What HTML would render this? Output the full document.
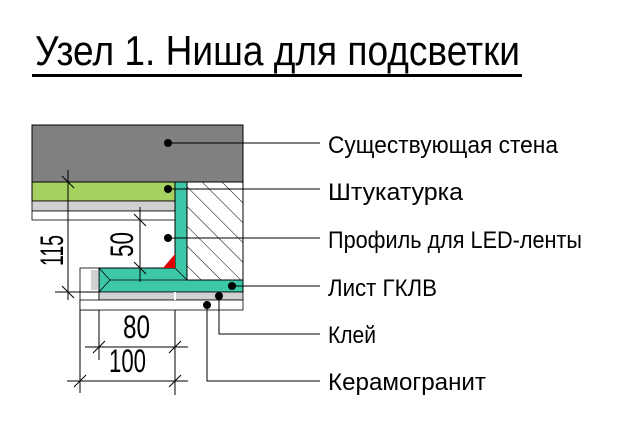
<!DOCTYPE html>
<html><head><meta charset="utf-8"><style>html,body{margin:0;padding:0;background:#fff}svg{display:block}</style></head>
<body>
<svg width="630" height="422" viewBox="0 0 630 422" xmlns="http://www.w3.org/2000/svg" font-family="Liberation Sans, sans-serif">
<defs>
<pattern id="h" patternUnits="userSpaceOnUse" width="14" height="14" patternTransform="rotate(-45)">
<line x1="0" y1="0" x2="0" y2="14" stroke="#000" stroke-width="1"/>
</pattern>
</defs>
<text x="35" y="65" font-size="42" textLength="485" lengthAdjust="spacingAndGlyphs">Узел 1. Ниша для подсветки</text>
<rect x="32" y="74" width="490" height="3" fill="#000"/>
<rect x="32" y="125" width="211" height="57" fill="#808080" stroke="#000"/>
<rect x="32" y="182" width="143" height="19" fill="#a5d160" stroke="#000"/>
<rect x="32" y="201" width="143" height="10" fill="#d0d0d0" stroke="#000" stroke-width="0.8"/>
<rect x="32" y="211" width="143" height="9" fill="#fff" stroke="#000" stroke-width="0.8"/>
<rect x="187" y="182" width="56" height="98" fill="url(#h)" stroke="#000"/>
<rect x="80" y="268" width="19" height="42" fill="#fff" stroke="#000" stroke-width="0.8"/>
<rect x="91" y="270" width="7" height="20" fill="#d0d0d0"/>
<path d="M175 182 H187 V280 H243 V292 H99 V268 H175 Z" fill="#3cc8a8" stroke="#000"/>
<polyline points="99,268 110,280 243,280" fill="none" stroke="#000" stroke-width="0.8"/>
<line x1="110" y1="280" x2="99" y2="292" stroke="#000" stroke-width="0.8"/>
<line x1="175" y1="268" x2="187" y2="280" stroke="#000" stroke-width="0.8"/>
<polygon points="175,254 175,268 163,268" fill="#e00000"/>
<rect x="99" y="292" width="144" height="8" fill="#d0d0d0" stroke="#000" stroke-width="0.8"/>
<rect x="80" y="300" width="163" height="10" fill="#fff" stroke="#000" stroke-width="0.8"/>
<line x1="175" y1="292" x2="175" y2="300" stroke="#fff" stroke-width="2"/>
<g stroke="#000" stroke-width="1" fill="none">
<line x1="168" y1="143" x2="320" y2="143"/>
<line x1="168" y1="189" x2="320" y2="189"/>
<line x1="168" y1="238" x2="320" y2="238"/>
<line x1="232" y1="286" x2="320" y2="286"/>
<polyline points="219,296 219,334 320,334"/>
<polyline points="207,305 207,381 320,381"/>
<line x1="68" y1="170" x2="68" y2="300"/>
<line x1="55" y1="292" x2="99" y2="292"/>
<line x1="62" y1="176" x2="74" y2="188"/>
<line x1="62" y1="286" x2="74" y2="298"/>
<line x1="140" y1="207" x2="140" y2="282"/>
<line x1="134" y1="214" x2="146" y2="226"/>
<line x1="134" y1="262" x2="146" y2="274"/>
<line x1="80" y1="310" x2="80" y2="393"/>
<line x1="99" y1="310" x2="99" y2="360"/>
<line x1="175" y1="310" x2="175" y2="395"/>
<line x1="85" y1="347" x2="188" y2="347"/>
<line x1="67" y1="381" x2="188" y2="381"/>
<line x1="93" y1="353" x2="105" y2="341"/>
<line x1="169" y1="353" x2="181" y2="341"/>
<line x1="74" y1="387" x2="86" y2="375"/>
<line x1="169" y1="387" x2="181" y2="375"/>
</g>
<g fill="#000">
<circle cx="168" cy="143" r="4"/><circle cx="168" cy="189" r="4"/><circle cx="168" cy="238" r="4"/>
<circle cx="232" cy="286" r="4"/><circle cx="219" cy="296" r="4"/><circle cx="207" cy="305" r="4"/>
</g>
<g font-size="32">
<text x="123" y="338" textLength="27" lengthAdjust="spacingAndGlyphs">80</text>
<text x="109" y="372" textLength="37" lengthAdjust="spacingAndGlyphs">100</text>
<text transform="translate(63,266) rotate(-90)" textLength="31" lengthAdjust="spacingAndGlyphs">115</text>
<text transform="translate(133,257) rotate(-90)" textLength="25" lengthAdjust="spacingAndGlyphs">50</text>
</g>
<g font-size="24">
<text x="328" y="153" textLength="230" lengthAdjust="spacingAndGlyphs">Существующая стена</text>
<text x="328" y="200" textLength="135" lengthAdjust="spacingAndGlyphs">Штукатурка</text>
<text x="328" y="248" textLength="254" lengthAdjust="spacingAndGlyphs">Профиль для LED-ленты</text>
<text x="328" y="296" textLength="109" lengthAdjust="spacingAndGlyphs">Лист ГКЛВ</text>
<text x="328" y="343" textLength="48" lengthAdjust="spacingAndGlyphs">Клей</text>
<text x="328" y="390" textLength="158" lengthAdjust="spacingAndGlyphs">Керамогранит</text>
</g>
</svg>
</body></html>
